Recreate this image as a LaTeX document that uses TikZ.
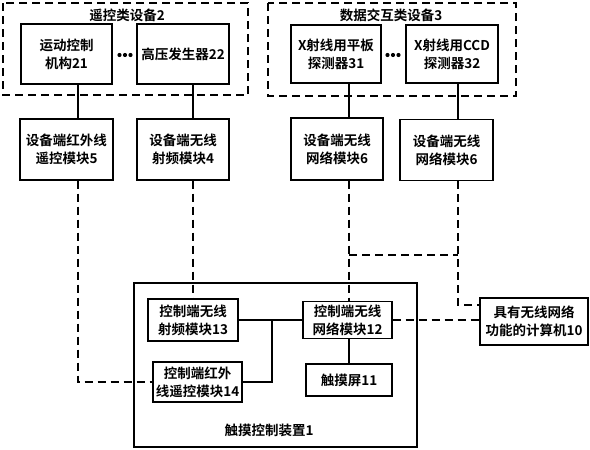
\documentclass[tikz,border=0pt]{standalone}
\usepackage{fontspec}
\setmainfont{Noto Sans CJK SC}[BoldFont=Noto Sans CJK SC Bold]
\usepackage{tikz}
\usetikzlibrary{positioning}

\begin{document}
\begin{tikzpicture}[x=1pt,y=-1pt,line width=1.4pt,
    font=\fontsize{13.5}{18}\selectfont\bfseries,
    unit/.style={draw,align=center,inner sep=0pt},
    group/.style={draw,dash pattern=on 8pt off 5pt},
    link/.style={dash pattern=on 8pt off 5pt}]
        \useasboundingbox (0,0) rectangle (590,450);
        % device groups
        \draw[group] (3,3) rectangle (248,95);
        \draw[group] (268,3) rectangle (516,96);
        \node (lab2) at (127,15) {遥控类设备2};
        \node (lab3) at (391,15) {数据交互类设备3};
        \node[unit,minimum width=91,minimum height=60] (motion) at (66.5,54) {运动控制\\机构21};
        \node[unit,minimum width=92,minimum height=60] (hv) at (183,54) {高压发生器22};
        \node[unit,minimum width=90,minimum height=58] (flat) at (336,54) {X射线用平板\\探测器31};
        \node[unit,minimum width=92,minimum height=58] (ccd) at (452,54) {X射线用CCD\\探测器32};
        \foreach \i in {-5.5,0,5.5} {
          \fill (125+\i,55) circle (2.1);
          \fill (393+\i,55) circle (2.1);
        }
        % device side modules
        \node[unit,minimum width=93,minimum height=61] (irdev) at (66.5,149.5) {设备端红外线\\遥控模块5};
        \node[unit,minimum width=92,minimum height=61] (rfdev) at (183,149.5) {设备端无线\\射频模块4};
        \node[unit,minimum width=92,minimum height=62] (netA) at (337,149) {设备端无线\\网络模块6};
        \node[unit,minimum width=93,minimum height=61] (netB) at (446.5,150) {设备端无线\\网络模块6};
        % touch control device
        \draw (134,283) rectangle (417,447);
        \node (lab1) at (269,430) {触摸控制装置1};
        \node[unit,minimum width=90,minimum height=42] (rfctl) at (193,320) {控制端无线\\射频模块13};
        \node[unit,minimum width=89,minimum height=40] (irctl) at (197.5,382) {控制端红外\\线遥控模块14};
        \node[unit,minimum width=89,minimum height=37] (netctl) at (347.5,320) {控制端无线\\网络模块12};
        \node[unit,minimum width=86,minimum height=32] (touch) at (349,380) {触摸屏11};
        \node[unit,minimum width=108,minimum height=47] (pc) at (534,321.5) {具有无线网络\\功能的计算机10};
        % bus positions
        \coordinate (c5) at (78,382);
        \coordinate (c4) at (193,283);
        \coordinate (c6a) at (349,255);
        \coordinate (c6b) at (458,305);
        \coordinate (j) at (272,320);
        % wired links
        \draw (motion.south -| c5) -- (irdev.north -| c5);
        \draw (hv.south -| c4) -- (rfdev.north -| c4);
        \draw (flat.south -| c6a) -- (netA.north -| c6a);
        \draw (ccd.south -| c6b) -- (netB.north -| c6b);
        \draw (rfctl.east) -- (rfctl.east -| netctl.west);
        \draw (irctl.east) -| (j);
        \draw (netctl.south -| touch.north) -- (touch.north);
        % wireless links
        \draw[link] (irdev.south -| c5) -- (c5) -- (irctl.west |- c5);
        \draw[link] (rfdev.south -| c4) -- (rfctl.north -| c4);
        \draw[link] (netA.south -| c6a) -- (netctl.north -| c6a);
        \draw[link] (c6a) -- (c6a -| c6b);
        \draw[link] (netB.south -| c6b) -- (c6b) -- (pc.west |- c6b);
        \draw[link] (netctl.east) -- (pc.west |- netctl.east);
      \end{tikzpicture}
\end{document}
